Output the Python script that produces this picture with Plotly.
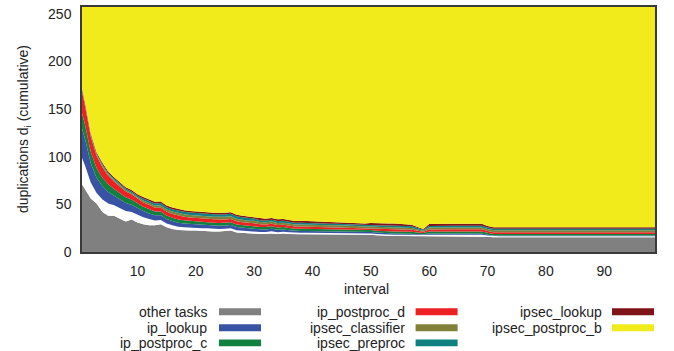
import plotly.graph_objects as go

# ---------------- data ----------------
intervals = list(range(0, 100))

other_tasks = [
    76, 66, 56, 51, 42, 38, 38, 35, 32, 34,
    31, 29, 28, 28, 29, 26, 24, 23, 22.5, 22.5,
    22.5, 22, 22, 21.5, 21.5, 22, 22.5, 20.5, 20, 19.5,
    19.5, 19, 19, 19.5, 19, 19.5, 19, 18.5, 18.5, 18.5,
    18.5, 18.5, 18.5, 18.5, 18.5, 18.5, 18.5, 18.5, 18.2, 18,
    18, 17.5, 17, 16.7, 16.7, 16.7, 16.7, 16.7, 16.5, 16.5,
    16.7, 16.7, 16.7, 16.7, 16.7, 16.7, 16.7, 16.7, 16.7, 16.7,
    16, 15.5, 15.5, 15.6, 15.5, 15.5, 15.5, 15.5, 15.5, 15.5,
    15.5, 15.5, 15.5, 15.4, 15.4, 15.4, 15.5, 15.5, 15.5, 15.5,
    15.5, 15.5, 15.5, 15.5, 15.5, 15.5, 15.5, 15.5, 15.5, 15.5,
]

# thin white band between "other tasks" and ip_lookup (not in the legend)
unlabelled = [
    30, 25, 17, 11, 13, 13, 11, 11, 11, 8,
    8, 7.5, 6.5, 5, 4.5, 4, 4, 3.5, 3.5, 3,
    3, 3, 2.8, 2.8, 2.6, 2.4, 2.4, 2.3, 2.2, 2.1,
    2, 2, 1.9, 2.2, 1.8, 1.8, 1.7, 1.6, 1.6, 1.6,
    1.6, 1.6, 1.6, 1.5, 1.5, 1.5, 1.5, 1.5, 1.5, 1.5,
    1.5, 1.4, 1.4, 1.4, 1.4, 1.4, 1.4, 1.4, 1.3, 1.2,
    1.4, 1.4, 1.4, 1.4, 1.4, 1.4, 1.4, 1.4, 1.4, 1.4,
    1.2, 1.0, 1.0, 1.0, 1.0, 1.0, 1.0, 1.0, 1.0, 1.0,
    1.0, 1.0, 1.0, 1.1, 1.1, 1.1, 1.0, 1.0, 1.0, 1.0,
    1.0, 1.0, 1.0, 1.0, 1.0, 1.0, 1.0, 1.0, 1.0, 1.0,
]

ip_lookup = [
    34, 28, 20, 16, 14, 12, 10, 9, 8.5, 7.5,
    7, 6.5, 6, 5.5, 5, 4.5, 4.5, 4.2, 4, 4,
    3.8, 3.7, 3.6, 3.5, 3.5, 3.5, 3.5, 3.3, 3.2, 3,
    3, 2.8, 2.7, 2.8, 2.5, 2.4, 2.1, 2.0, 2.0, 2.0,
    1.9, 1.9, 1.9, 1.8, 1.8, 1.8, 1.7, 1.7, 1.6, 1.6,
    1.6, 1.5, 1.4, 1.3, 1.3, 1.2, 1.2, 1.2, 1.0, 0.8,
    1.2, 1.2, 1.2, 1.2, 1.2, 1.2, 1.2, 1.2, 1.2, 1.2,
    0.9, 0.7, 0.7, 0.7, 0.7, 0.7, 0.7, 0.7, 0.7, 0.7,
    0.7, 0.7, 0.7, 0.9, 0.9, 0.9, 0.7, 0.7, 0.8, 0.7,
    0.7, 0.7, 0.7, 0.7, 0.7, 0.7, 0.7, 0.7, 0.7, 0.7,
]

ip_postproc_c = [
    17, 15, 12, 10, 9, 8, 7, 6.5, 6, 5.5,
    5, 4.5, 4.5, 4, 4, 3.8, 3.5, 3.5, 3.3, 3.2,
    3.2, 3.1, 3, 3, 2.9, 2.8, 2.8, 2.8, 2.7, 2.6,
    2.6, 2.5, 2.5, 2.5, 2.4, 2.4, 2.4, 2.3, 2.3, 2.2,
    2.2, 2.2, 2.2, 2.1, 2.1, 2.0, 2.0, 2.0, 1.9, 1.9,
    1.9, 2.0, 2.1, 2.2, 2.2, 2.2, 2.1, 2.0, 1.6, 1.3,
    2.1, 2.2, 2.2, 2.2, 2.2, 2.2, 2.2, 2.2, 2.2, 2.2,
    1.8, 1.6, 1.6, 1.6, 1.6, 1.6, 1.6, 1.6, 1.6, 1.6,
    1.6, 1.6, 1.6, 1.5, 1.5, 1.5, 1.6, 1.6, 1.6, 1.6,
    1.6, 1.6, 1.6, 1.6, 1.6, 1.6, 1.6, 1.6, 1.6, 1.6,
]

ip_postproc_d = [
    26, 20, 16, 13, 11, 9, 8, 7, 6, 5.5,
    5, 4.5, 4.5, 4, 4, 3.8, 3.8, 3.8, 3.7, 3.6,
    3.6, 3.5, 3.5, 3.5, 3.5, 3.5, 3.5, 3.3, 3.2, 3.1,
    3, 2.9, 2.8, 2.7, 2.6, 2.5, 2.4, 2.4, 2.4, 2.3,
    2.3, 2.3, 2.2, 2.2, 2.2, 2.1, 2.1, 2.0, 2.0, 2.0,
    2.0, 2.1, 2.2, 2.3, 2.3, 2.3, 2.2, 2.1, 1.8, 1.5,
    2.2, 2.3, 2.3, 2.3, 2.3, 2.3, 2.3, 2.3, 2.3, 2.3,
    2.1, 2.0, 2.0, 2.0, 2.0, 2.0, 2.0, 2.0, 2.0, 2.0,
    2.0, 2.0, 2.0, 2.0, 2.0, 2.0, 2.0, 2.0, 2.0, 2.0,
    2.0, 2.0, 2.0, 2.0, 2.0, 2.0, 2.0, 2.0, 2.0, 2.0,
]

ipsec_classifier = [
    1.2, 1.2, 1.2, 1.2, 1.5, 1.5, 1.5, 1.5, 1.5, 1.5,
    1.5, 2.0, 2.0, 2.2, 2.4, 2.4, 2.6, 2.6, 2.6, 2.6,
    2.6, 2.6, 2.7, 2.7, 2.7, 2.7, 2.8, 2.7, 2.6, 2.6,
    2.6, 2.2, 2.2, 2.2, 2.2, 2.2, 2.2, 2.0, 2.1, 2.0,
    2.0, 2.0, 1.9, 1.9, 1.9, 1.8, 1.8, 1.7, 1.7, 1.7,
    1.8, 1.9, 2.0, 2.1, 2.1, 2.0, 2.0, 1.8, 1.4, 1.0,
    2.0, 2.0, 2.0, 2.0, 2.0, 2.0, 2.0, 2.0, 2.0, 2.0,
    2.0, 2.0, 2.0, 2.0, 2.0, 2.0, 2.0, 2.0, 2.0, 2.0,
    2.0, 2.0, 2.0, 2.1, 2.1, 2.1, 2.0, 2.0, 2.0, 2.0,
    2.0, 2.0, 2.0, 2.0, 2.0, 2.0, 2.0, 2.0, 2.0, 2.0,
]

ipsec_preproc = [
    1.2, 1.2, 1.2, 1.2, 1.5, 1.5, 1.5, 1.5, 1.5, 1.5,
    1.5, 2.0, 2.0, 2.2, 2.5, 2.5, 2.5, 2.5, 2.5, 2.5,
    2.5, 2.5, 2.5, 2.5, 2.5, 2.5, 2.5, 2.5, 2.5, 2.5,
    2.5, 2.0, 2.0, 2.0, 2.0, 2.0, 2.0, 1.8, 1.8, 1.8,
    1.8, 1.8, 1.8, 1.7, 1.7, 1.7, 1.6, 1.6, 1.6, 1.6,
    1.7, 1.8, 1.8, 1.9, 1.9, 1.9, 1.8, 1.7, 1.3, 1.0,
    1.8, 1.8, 1.8, 1.8, 1.8, 1.8, 1.8, 1.8, 1.8, 1.8,
    1.6, 1.5, 1.5, 1.5, 1.5, 1.5, 1.5, 1.5, 1.5, 1.5,
    1.5, 1.5, 1.5, 1.5, 1.5, 1.3, 1.5, 1.5, 1.5, 1.4,
    1.5, 1.5, 1.5, 1.5, 1.5, 1.5, 1.5, 1.5, 1.5, 1.5,
]

ipsec_lookup = [
    1.2, 1.2, 1.2, 1.2, 1.5, 1.5, 1.5, 1.5, 1.5, 1.5,
    1.5, 1.7, 1.7, 1.7, 1.7, 1.7, 1.7, 1.7, 1.7, 1.7,
    1.7, 1.7, 1.7, 1.7, 1.7, 1.7, 1.7, 1.7, 1.7, 1.7,
    1.7, 1.8, 1.8, 1.8, 1.8, 1.8, 1.8, 2.0, 2.2, 2.2,
    2.1, 2.0, 2.0, 2.0, 1.8, 1.8, 1.8, 1.8, 1.7, 1.7,
    1.8, 1.8, 1.9, 2.0, 2.0, 2.0, 1.9, 1.8, 1.2, 0.9,
    2.0, 2.0, 2.0, 2.0, 2.0, 2.0, 2.0, 2.0, 2.0, 2.0,
    1.8, 1.6, 1.6, 1.6, 1.6, 1.6, 1.6, 1.6, 1.6, 1.6,
    1.6, 1.6, 1.6, 1.6, 1.9, 1.6, 1.9, 1.6, 1.6, 1.8,
    1.6, 1.6, 1.6, 1.6, 1.6, 1.6, 1.6, 1.6, 1.6, 1.6,
]

# the top layer runs off the top of the plot
ipsec_postproc_b = [
    73, 102, 135, 155, 166, 175, 181, 187, 192, 195,
    199, 202, 205, 207, 207, 211, 213, 215, 216, 217,
    217, 218, 218, 219, 219, 219, 218, 221, 222, 223,
    223, 225, 225, 224, 226, 225, 226, 227, 227, 227,
    228, 228, 228, 228, 229, 229, 229, 229, 230, 230,
    230, 230, 230, 230, 230, 230, 231, 231, 234, 236,
    231, 231, 231, 231, 231, 231, 231, 231, 231, 231,
    233, 234, 234, 234, 234, 234, 234, 234, 234, 234,
    234, 234, 234, 234, 234, 234, 234, 234, 234, 234,
    234, 234, 234, 234, 234, 234, 234, 234, 234, 234,
]

y_ticks = [0, 50, 100, 150, 200, 250]
x_ticks = [10, 20, 30, 40, 50, 60, 70, 80, 90]

layers = [
    ("other tasks", other_tasks, "#808080", True),
    ("", unlabelled, "#ffffff", False),
    ("ip_lookup", ip_lookup, "#3953a4", True),
    ("ip_postproc_c", ip_postproc_c, "#12803e", True),
    ("ip_postproc_d", ip_postproc_d, "#ed2024", True),
    ("ipsec_classifier", ipsec_classifier, "#808038", True),
    ("ipsec_preproc", ipsec_preproc, "#0f8080", True),
    ("ipsec_lookup", ipsec_lookup, "#7f1418", True),
    ("ipsec_postproc_b", ipsec_postproc_b, "#f2eb1c", True),
]

# ---------------- figure ----------------
W, H = 674, 351
ML, MR, MT, MB = 82, 19, 5, 99
PW, PH = W - ML - MR, H - MT - MB

def px(x):
    return (x - ML) / PW

def py(y):
    return (H - MB - y) / PH

fig = go.Figure()
for name, vals, color, _ in layers:
    fig.add_trace(go.Scatter(
        x=intervals, y=vals, name=name or "gap",
        mode="lines", stackgroup="one",
        line=dict(width=0, color=color), fillcolor=color,
        showlegend=False, hoverinfo="skip",
    ))

FONT = "Liberation Sans, Arial, sans-serif"
TXT = "#222222"
frame = "#3a3a3a"

fig.update_layout(
    width=W, height=H,
    margin=dict(l=ML, r=MR, t=MT, b=MB),
    paper_bgcolor="white", plot_bgcolor="white",
    font=dict(family=FONT, size=14, color=TXT),
    showlegend=False,
)
fig.update_xaxes(
    range=[0.5, 98.7], tickvals=x_ticks, showgrid=False, zeroline=False,
    showline=True, linecolor=frame, linewidth=1.5, mirror=True,
    ticks="outside", ticklen=5, tickcolor="rgba(0,0,0,0)",
    tickfont=dict(family=FONT, size=14, color=TXT),
)
fig.update_yaxes(
    range=[0, 257], tickvals=y_ticks, showgrid=False, zeroline=False,
    showline=True, linecolor=frame, linewidth=1.5, mirror=True,
    ticks="outside", ticklen=6, tickcolor="rgba(0,0,0,0)",
    tickfont=dict(family=FONT, size=14, color=TXT),
)

annotations = [
    dict(text="interval", x=px(366.5), y=py(289), xref="paper", yref="paper",
         showarrow=False, xanchor="center", yanchor="middle",
         font=dict(family=FONT, size=14, color=TXT)),
    dict(text="duplications d<sub>i</sub> (cumulative)", x=px(24), y=py(128),
         xref="paper", yref="paper", showarrow=False, textangle=-90,
         xanchor="center", yanchor="middle",
         font=dict(family=FONT, size=14, color=TXT)),
]
shapes = []

# manual legend: 3 columns, filled column by column
legend_items = [(n, c) for n, _, c, show in layers if show]
col_text_right = [209, 406.5, 603.6]
col_sw_left = [219, 415.6, 612]
sw_w = 42
row_y = [312.3, 328.3, 343.6]
sw_h = 7
for i, (name, color) in enumerate(legend_items):
    col, row = divmod(i, 3)
    yc = row_y[row]
    annotations.append(dict(
        text=name, x=px(col_text_right[col]), y=py(yc), xref="paper", yref="paper",
        showarrow=False, xanchor="right", yanchor="middle",
        font=dict(family=FONT, size=14, color=TXT)))
    shapes.append(dict(
        type="rect", xref="paper", yref="paper",
        x0=px(col_sw_left[col]), x1=px(col_sw_left[col] + sw_w),
        y0=py(yc - sw_h / 2), y1=py(yc + sw_h / 2),
        fillcolor=color, line=dict(width=0)))

fig.update_layout(annotations=annotations, shapes=shapes)
fig.write_html(
    "out.html",
    config={"displayModeBar": False},
    post_script="document.body.style.margin='0px';document.body.style.overflow='hidden';",
)
